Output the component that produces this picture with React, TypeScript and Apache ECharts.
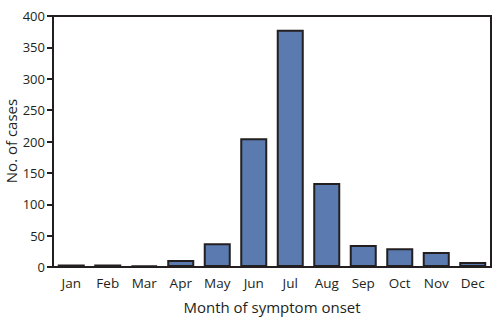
import React, { useEffect, useRef } from "react";
import * as echarts from "echarts";

const months = ["Jan", "Feb", "Mar", "Apr", "May", "Jun", "Jul", "Aug", "Sep", "Oct", "Nov", "Dec"];
const cases = [4, 4, 2, 11, 38, 205, 378, 134, 35, 30, 24, 8];
const yTicks = [0, 50, 100, 150, 200, 250, 300, 350, 400];

const INK = "#231f20";
const FONT = "'Open Sans', 'Noto Sans', sans-serif";

export default function App() {
  const ref = useRef<HTMLDivElement>(null);
  useEffect(() => {
    if (!ref.current) return;
    const chart = echarts.init(ref.current, null, { renderer: "svg" });
    chart.setOption({
      animation: false,
      grid: {
        left: 53,
        right: 13,
        top: 16,
        bottom: 55,
        containLabel: false,
        outerBoundsMode: "none",
        show: true,
        borderColor: INK,
        borderWidth: 2,
        backgroundColor: "transparent",
      },
      graphic: [
        {
          type: "text",
          x: 11,
          y: 141,
          rotation: Math.PI / 2,
          style: {
            text: "No. of cases",
            fill: INK,
            font: "15px 'Open Sans', 'Noto Sans', sans-serif",
            align: "center",
            verticalAlign: "middle",
          },
        },
      ],
      xAxis: {
        type: "category",
        data: months,
        name: "Month of symptom onset",
        nameLocation: "middle",
        nameGap: 32,
        nameMoveOverlap: false,
        nameTextStyle: { color: INK, fontFamily: FONT, fontSize: 15 },
        axisLine: { lineStyle: { color: INK, width: 2 } },
        axisTick: { alignWithLabel: true, length: 6, lineStyle: { color: INK, width: 2 } },
        axisLabel: { color: INK, fontFamily: FONT, fontSize: 13.5, margin: 9, interval: 0 },
      },
      yAxis: {
        type: "value",
        min: yTicks[0],
        max: yTicks[yTicks.length - 1],
        interval: 50,
        axisLine: { show: true, lineStyle: { color: INK, width: 2 } },
        axisTick: { show: true, length: 6, lineStyle: { color: INK, width: 2 } },
        axisLabel: { color: INK, fontFamily: FONT, fontSize: 13, margin: 8 },
        splitLine: { show: false },
      },
      series: [
        {
          type: "bar",
          data: cases,
          barCategoryGap: "26%",
          itemStyle: { color: "#5b7bb0", borderColor: INK, borderWidth: 2 },
        },
      ],
    });
    return () => chart.dispose();
  }, []);
  return <div ref={ref} style={{ width: 504, height: 322, position: "absolute", left: 0, top: 0 }} />;
}
